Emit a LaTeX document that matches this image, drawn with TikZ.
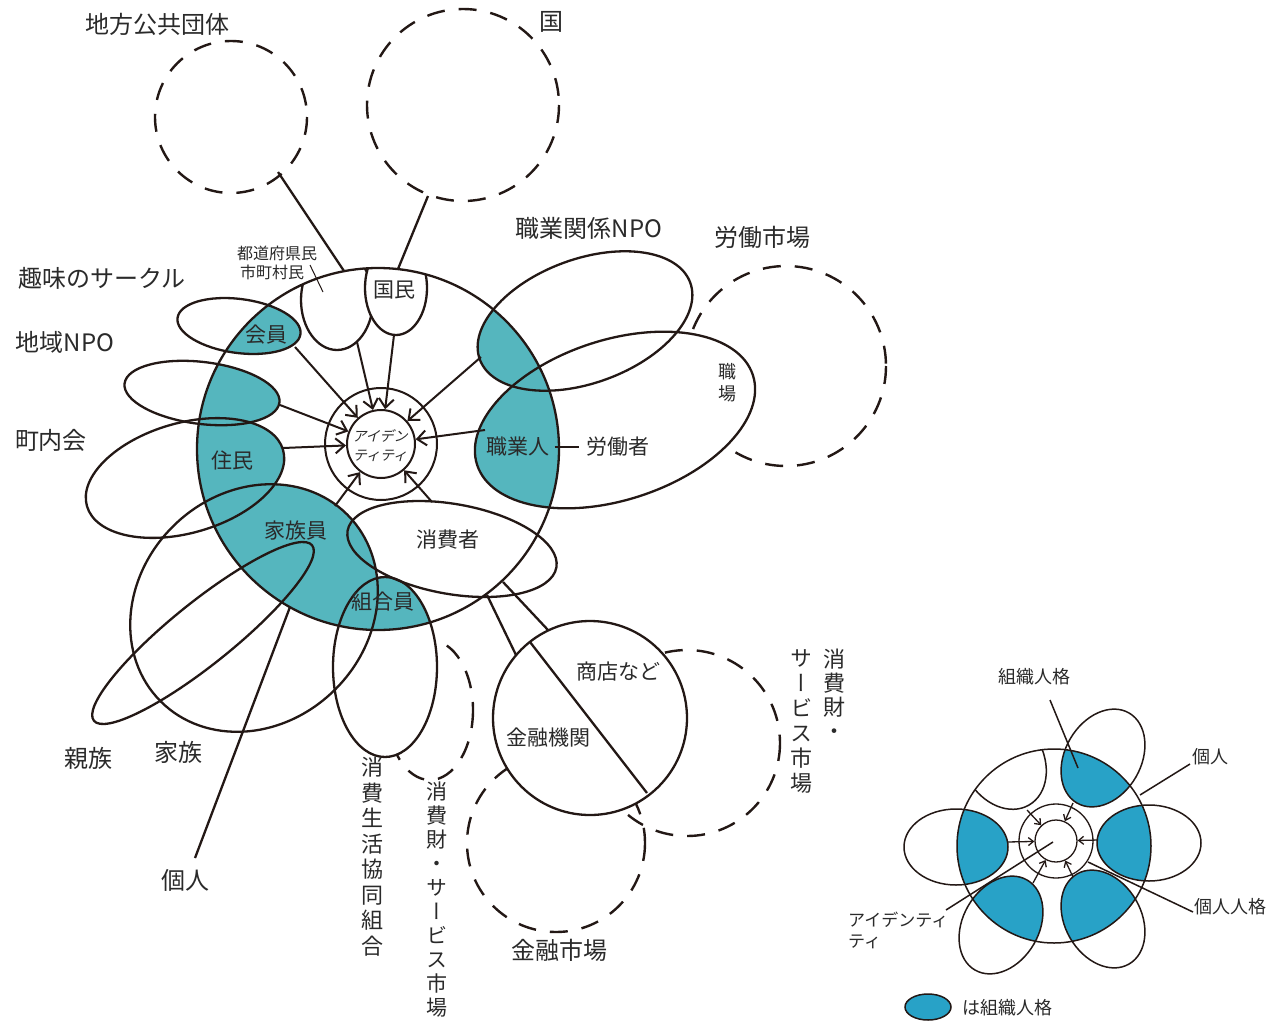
\documentclass[tikz,border=0pt]{standalone}
\usepackage{fontspec}
\setmainfont{Noto Sans CJK JP}
\newfontfamily\vfont[RawFeature=+vert]{Noto Sans CJK JP}
\newfontfamily\slfont[FakeSlant=0.25]{Noto Sans CJK JP}
\usetikzlibrary{arrows.meta}
\definecolor{ink}{HTML}{231815}
\definecolor{tealA}{HTML}{55B6BE}
\definecolor{tealB}{HTML}{28A2C7}
\definecolor{txt}{HTML}{2A2A2A}
% main diagram shapes (image coordinates, y downwards)
\def\pMain{(378,449) circle [radius=181]}
\def\pTaste{(239,326) ellipse [x radius=62, y radius=27, rotate=-7.5]}
\def\pCNPO{(202,393) ellipse [x radius=78, y radius=31, rotate=-7]}
\def\pTown{(185,478) ellipse [x radius=102, y radius=55, rotate=16]}
\def\pFam{(254,608) ellipse [x radius=132, y radius=115, rotate=45]}
\def\pKin{(203,633) ellipse [x radius=140, y radius=31, rotate=38.8]}
\def\pJNPO{(585,321) ellipse [x radius=112, y radius=62, rotate=20]}
\def\pWork{(615,420) ellipse [x radius=145, y radius=80, rotate=18]}
\def\pCoop{(385,667) ellipse [x radius=52, y radius=90]}
\def\pCons{(452,549) ellipse [x radius=106, y radius=45, rotate=-10]}
\def\pShop{(590,718) circle [radius=97]}
\def\pPref{(337,300) ellipse [x radius=36, y radius=50]}
\def\pNat{(396,288) ellipse [x radius=31, y radius=47]}
% small diagram shapes
\def\sBig{(1054,846) circle [radius=97]}
\def\sUR{(1103,758) ellipse [x radius=52, y radius=38, rotate=60]}
\def\sR{(1149,843) ellipse [x radius=52, y radius=38]}
\def\sLR{(1103,919) ellipse [x radius=52, y radius=38, rotate=-60]}
\def\sLL{(1001,925) ellipse [x radius=52, y radius=38, rotate=60]}
\def\sL{(956,847) ellipse [x radius=52, y radius=38]}
\def\sUL{(1003,760) ellipse [x radius=52, y radius=40, rotate=-60]}
\begin{document}
\begin{tikzpicture}[x=1pt,y=-1pt,
  outl/.style={draw=ink,line width=2.3pt},
  thin/.style={draw=ink,line width=1.5pt},
  dsh/.style={draw=ink,line width=2.4pt,dash pattern=on 18pt off 14pt},
  spoke/.style={draw=ink,line width=2pt,-{Straight Barb[length=9pt,width=15pt]}},
  sspoke/.style={draw=ink,line width=1.3pt,-{Straight Barb[length=5pt,width=8pt]}},
  lblL/.style={text=txt,font=\fontsize{24}{28}\selectfont,inner sep=0pt},
  lblM/.style={text=txt,font=\fontsize{21}{24}\selectfont,inner sep=0pt},
  lblS/.style={text=txt,font=\fontsize{16}{19}\selectfont,inner sep=0pt},
  lblT/.style={text=txt,font=\fontsize{18}{21}\selectfont,inner sep=0pt},
  vlbl/.style={text=txt,font=\vfont\fontsize{22}{25.5}\selectfont,align=center,inner sep=0pt,anchor=north},
  ring/.style={circle,draw=ink,fill=white,inner sep=0pt}]
\useasboundingbox (0,0) rectangle (1280,1023);
\fill[white] (0,0) rectangle (1280,1023);

% ---------- dashed (market / state) circles
\draw[dsh] (231,117) circle [radius=76];
\draw[dsh] (463,105) circle [radius=96];
\draw[dsh] (786,366) circle [radius=100];
\draw[dsh] (687,743) circle [radius=93];
\draw[dsh] (556,843) circle [radius=89];
\draw[dsh] (430,710) ellipse [x radius=43, y radius=70];

% ---------- white fills of solid shapes
\fill[white] \pTown;
\fill[white] \pCNPO;
\fill[white] \pTaste;
\fill[white] \pFam;
\fill[white] \pKin;
\fill[white] \pJNPO;
\fill[white] \pWork;
\fill[white] \pCoop;
\fill[white] \pShop;

% ---------- organisational roles (teal)
\begin{scope}
  \clip \pMain;
  \fill[tealA] \pTaste;
  \fill[tealA] \pCNPO;
  \fill[tealA] \pTown;
  \fill[tealA] \pFam;
  \fill[tealA] \pKin;
  \fill[tealA] \pJNPO;
  \fill[tealA] \pWork;
  \fill[tealA] \pCoop;
\end{scope}

% ---------- outlines
\draw[outl] \pTaste;
\draw[outl] \pCNPO;
\draw[outl] \pTown;
\draw[outl] \pFam;
\draw[outl] \pKin;
\draw[outl] \pJNPO;
\draw[outl] \pWork;
\draw[outl] \pCoop;
\draw[outl] \pCons;
\draw[outl] \pShop;
\begin{scope}
  \clip \pMain;
  \filldraw[outl,fill=white] \pPref;
  \filldraw[outl,fill=white] \pNat;
\end{scope}
\draw[outl] \pMain;

% ---------- identity
\node[ring,line width=2pt,minimum size=112pt] (idr) at (381,444) {};
\node[ring,line width=2pt,minimum size=68pt] (id) at (381,444) {};
\node[text=txt,font=\slfont\fontsize{14}{19}\selectfont,align=center,inner sep=0pt] (idtxt) at (380,446) {アイデン\\ティティ};

\coordinate (s1) at (295,347);
\coordinate (s2) at (357,342);
\coordinate (s3) at (394,335);
\coordinate (s4) at (481,357);
\coordinate (s5) at (280,405);
\coordinate (s6) at (283,448);
\coordinate (s7) at (485,430);
\coordinate (s8) at (335,506);
\coordinate (s9) at (432,502);
\foreach \s in {s1,s2,s3,s4,s5,s6,s7,s8,s9} \draw[spoke] (\s) -- (id);

% ---------- connecting lines
\coordinate (lgA) at (278,172);
\coordinate (lgB) at (344,271);
\draw[outl] (lgA) -- (lgB);
\coordinate (knA) at (428,196);
\coordinate (knB) at (398,269);
\draw[outl] (knA) -- (knB);
\coordinate (ptA) at (310,265);
\coordinate (ptB) at (323,292);
\draw[draw=ink,line width=1pt] (ptA) -- (ptB);
\coordinate (shA1) at (503,582);
\coordinate (shA2) at (548,630);
\coordinate (shB1) at (487,595);
\coordinate (shB2) at (516,655);
\coordinate (shC1) at (530,642);
\coordinate (shC2) at (647,793);
\draw[outl] (shA1) -- (shA2);
\draw[outl] (shB1) -- (shB2);
\draw[outl] (shC1) -- (shC2);
\coordinate (kjA) at (195,858);
\coordinate (kjB) at (290,607);
\draw[outl] (kjA) -- (kjB);

% ---------- labels
\node[lblL] (tChiho) at (157,24) {地方公共団体};
\node[lblL] (tKuni) at (551,22) {国};
\node[lblL] (tShNPO) at (589,228) {職業関係NPO};
\node[lblL] (tRoSh) at (762,237) {労働市場};
\node[lblL] (tShumi) at (102,278) {趣味のサークル};
\node[lblL] (tChNPO) at (65,342) {地域NPO};
\node[lblL] (tChonai) at (51,440) {町内会};
\node[lblS] (tTodo) at (277,253) {都道府県民};
\node[lblS] (tShi) at (272,272) {市町村民};
\node[lblM] (tKokumin) at (394,290) {国民};
\node[lblM] (tKaiin) at (266,335) {会員};
\node[lblM] (tJumin) at (232,460) {住民};
\node[lblM] (tShokugyo) at (518,447) {職業人};
\node[lblM] (tRodosha) at (618,447) {労働者};
\draw[outl,line width=1.8pt,shorten <=5pt,shorten >=7pt] (tShokugyo.east) -- (tRodosha.west);
\node[text=txt,font=\fontsize{18}{22}\selectfont,align=center,inner sep=0pt] (tShokuba) at (727,383) {職\\場};
\node[lblM] (tKazokuin) at (296,531) {家族員};
\node[lblM] (tShohisha) at (448,540) {消費者};
\node[lblM] (tKumiai) at (383,602) {組合員};
\node[lblL] (tShinzoku) at (88,758) {親族};
\node[lblL] (tKazoku) at (178,752) {家族};
\node[lblL] (tKojin) at (185,880) {個人};
\node[vlbl] (tCoop) at (372,757) {消\\費\\生\\活\\協\\同\\組\\合};
\node[vlbl,font=\vfont\fontsize{21}{24}\selectfont] (tMkt1) at (437,782) {消\\費\\財\\・\\サ\\ー\\ビ\\ス\\市\\場};
\node[lblM] (tShoten) at (618,672) {商店など};
\node[lblM] (tKinyu) at (548,738) {金融機関};
\node[lblL] (tKinyuSh) at (559,950) {金融市場};
\node[vlbl,font=\vfont\fontsize{22}{24}\selectfont] (tR1) at (834,649) {消\\費\\財\\・};
\node[vlbl,font=\vfont\fontsize{22}{25}\selectfont] (tR2) at (801,649) {サ\\ー\\ビ\\ス\\市\\場};

% ---------- small explanatory diagram
\fill[white] \sUR; \fill[white] \sR; \fill[white] \sLR; \fill[white] \sLL; \fill[white] \sL;
\begin{scope}
  \clip \sBig;
  \fill[tealB] \sUR; \fill[tealB] \sR; \fill[tealB] \sLR; \fill[tealB] \sLL; \fill[tealB] \sL;
  \draw[thin] \sUL;
\end{scope}
\draw[thin] \sUR; \draw[thin] \sR; \draw[thin] \sLR; \draw[thin] \sLL; \draw[thin] \sL;
\draw[thin] \sBig;
\node[ring,line width=1.3pt,minimum size=74pt] (sidr) at (1056,841) {};
\node[ring,line width=1.3pt,minimum size=42pt] (sid) at (1056,841) {};
\coordinate (a1) at (1027,810);
\coordinate (a2) at (1073,803);
\coordinate (a3) at (1098,840);
\coordinate (a4) at (1073,877);
\coordinate (a5) at (1033,883);
\coordinate (a6) at (1007,842);
\foreach \a in {a1,a2,a3,a4,a5,a6} \draw[sspoke] (\a) -- (sid);

\node[lblT] (tSoshiki) at (1034,677) {組織人格};
\node[lblT] (tKojin2) at (1210,757) {個人};
\node[lblT] (tKojinJ) at (1230,907) {個人人格};
\node[lblT,anchor=west,font=\fontsize{17}{20}\selectfont] (tAid) at (848,920) {アイデンティ};
\node[lblT,anchor=west,font=\fontsize{17}{20}\selectfont] (tTi) at (848,942) {ティ};
\coordinate (soA) at (1050,700);
\coordinate (soB) at (1078,768);
\draw[thin] (soA) -- (soB);
\coordinate (kiA) at (1190,764);
\coordinate (kiB) at (1140,795);
\draw[thin] (kiA) -- (kiB);
\coordinate (kjjA) at (1193,912);
\coordinate (kjjB) at (1088,862);
\draw[thin] (kjjA) -- (kjjB);
\coordinate (idA) at (946,910);
\coordinate (idB) at (1053,842);
\draw[thin] (idA) -- (idB);

\filldraw[thin,fill=tealB] (928,1007) ellipse [x radius=23, y radius=13];
\node[lblT,anchor=west] (tLeg) at (962,1008) {は組織人格};
\end{tikzpicture}
\end{document}
